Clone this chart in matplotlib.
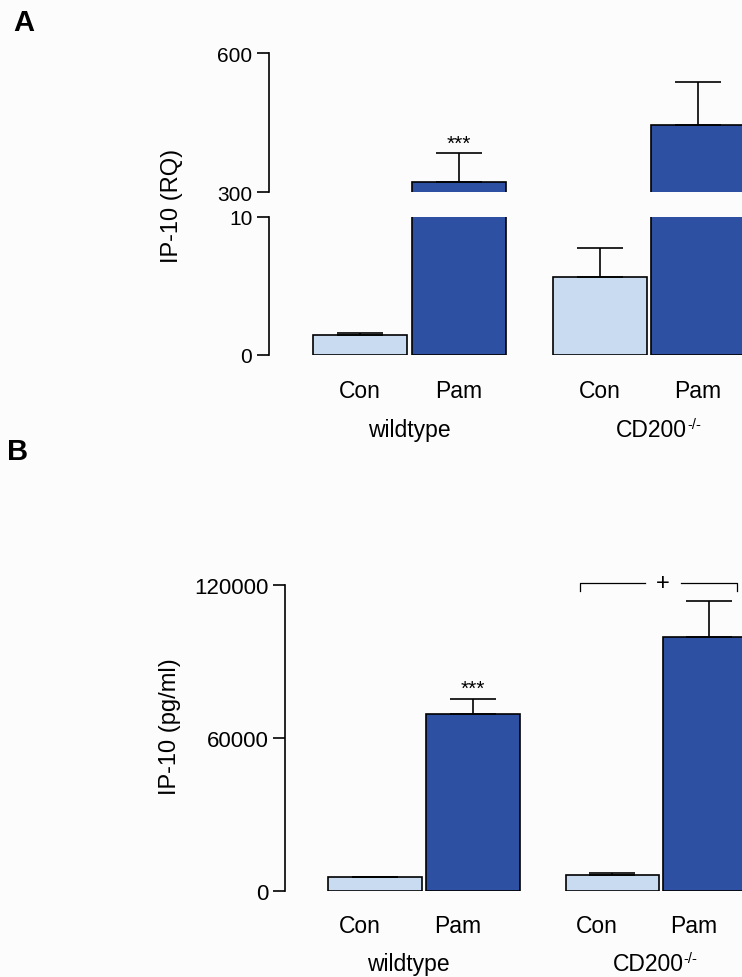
import matplotlib
matplotlib.use("Agg")
import matplotlib.pyplot as plt
import matplotlib.transforms as mtransforms
import numpy as np

# ---------------- data ----------------
categories = ["Con", "Pam", "Con", "Pam"]
groups = ["wildtype", "CD200"]
group_sup = ["", "-/-"]
rq_mean = [1.45, 322, 5.66, 446]
rq_sem = [0.12, 62, 2.05, 91]
pg_mean = [5400, 69400, 6400, 99600]
pg_sem = [250, 6000, 700, 14100]
rq_lower_ticks = [0, 10]
rq_upper_ticks = [300, 600]
pg_ticks = [0, 60000, 120000]

# ---------------- style ----------------
plt.rcParams["font.family"] = ["Liberation Sans", "DejaVu Sans"]
W, H = 742, 978
BG = "#fcfcfc"
LIGHT = "#c9dbf1"
DARK = "#2d50a2"
colors = [LIGHT, DARK, LIGHT, DARK]
positions = np.array([0.0, 1.0, 2.42, 3.41])
bar_w = 0.95
LW = 1.2
LABEL_FS = 16.5

fig = plt.figure(figsize=(W / 100, H / 100), dpi=100, facecolor=BG)


def rect(x0, y_top, x1, y_bot):
    return [x0 / W, 1 - y_bot / H, (x1 - x0) / W, (y_bot - y_top) / H]


def style_axis(ax, ticks, tick_fs):
    for s in ["top", "right", "bottom"]:
        ax.spines[s].set_visible(False)
    ax.spines["left"].set_linewidth(LW)
    ax.set_facecolor("none")
    ax.set_yticks(ticks)
    ax.set_yticklabels([str(t) for t in ticks])
    ax.tick_params(axis="y", direction="out", length=8.5, width=LW,
                   labelsize=tick_fs, pad=3.5)
    ax.set_xticks([])


def draw_bars(ax, mean, sem):
    ax.bar(positions, mean, width=bar_w, color=colors, edgecolor="black",
           linewidth=LW, zorder=2)
    ax.errorbar(positions, mean, yerr=[np.zeros(len(sem)), sem], fmt="none",
                ecolor="black", elinewidth=LW, capsize=16.5, capthick=LW,
                zorder=3)


def draw_labels(ax, offset, y1, y2):
    trans = mtransforms.blended_transform_factory(ax.transData, fig.transFigure)
    for p, c in zip(positions, categories):
        ax.text(p + offset, 1 - y1 / H, c, transform=trans, ha="center",
                va="center", fontsize=LABEL_FS, clip_on=False)
    g1 = (positions[0] + positions[1]) / 2 + offset
    g2 = (positions[2] + positions[3]) / 2 + offset + 0.03
    ax.text(g1, 1 - y2 / H, groups[0], transform=trans, ha="center",
            va="center", fontsize=LABEL_FS, clip_on=False)
    t = ax.text(g2, 1 - y2 / H, groups[1], transform=trans, ha="center",
                va="center", fontsize=LABEL_FS, clip_on=False)
    ax.annotate(group_sup[1], xy=(1.0, 1.0), xycoords=t, xytext=(0.2, 1.0),
                textcoords="offset points", ha="left", va="top",
                fontsize=10.5, annotation_clip=False)


# ---------------- Panel A (broken axis) ----------------
xA0 = 360.0
pxA = 99.0
xlimA = ((269 - xA0) / pxA, (W - xA0) / pxA)

axA_low = fig.add_axes(rect(269, 217.7, W, 356))
axA_up = fig.add_axes(rect(269, 54, W, 193.3))
for ax, ylim, ticks in [(axA_low, (0, 10), rq_lower_ticks),
                        (axA_up, (300, 600), rq_upper_ticks)]:
    draw_bars(ax, rq_mean, rq_sem)
    ax.set_xlim(*xlimA)
    ax.set_ylim(*ylim)
    style_axis(ax, ticks, 15)

axA_up.annotate("***", xy=(positions[1], rq_mean[1] + rq_sem[1]),
                xytext=(0, 0.5), textcoords="offset points", ha="center",
                va="bottom", fontsize=15)
draw_labels(axA_low, 0.0, 391.5, 431)
fig.text(172 / W, 1 - 206 / H, "IP-10 (RQ)", rotation=90, ha="center",
         va="center", fontsize=17)
fig.text(24 / W, 1 - 23 / H, "A", ha="center", va="center", fontsize=21,
         fontweight="bold")

# ---------------- Panel B ----------------
xB0 = 375.0
pxB = 98.0
axB = fig.add_axes(rect(285, 586, W, 892))
draw_bars(axB, pg_mean, pg_sem)
axB.set_xlim((285 - xB0) / pxB, (W - xB0) / pxB)
axB.set_ylim(0, 120000)
style_axis(axB, pg_ticks, 16)
axB.annotate("***", xy=(positions[1], pg_mean[1] + pg_sem[1]),
             xytext=(0, 0.5), textcoords="offset points", ha="center",
             va="bottom", fontsize=15)

# significance bracket between CD200 groups
bx0 = positions[2] - 0.33
bx1 = positions[3] + 0.28
by = 120900
bdrop = 117500
bmid = (bx0 + bx1) / 2 + 0.05
gap = 0.18
axB.plot([bx0, bx0, bmid - gap], [bdrop, by, by], color="black", lw=0.9,
         clip_on=False)
axB.plot([bmid + gap, bx1, bx1], [by, by, bdrop], color="black", lw=0.9,
         clip_on=False)
axB.text(bmid, by, "+", ha="center", va="center", fontsize=17, clip_on=False)

draw_labels(axB, -0.16, 926.5, 965)
fig.text(170 / W, 1 - 727 / H, "IP-10 (pg/ml)", rotation=90, ha="center",
         va="center", fontsize=17)
fig.text(18 / W, 1 - 452 / H, "B", ha="center", va="center", fontsize=21,
         fontweight="bold")

fig.savefig("out.png", dpi=100, facecolor=BG)
